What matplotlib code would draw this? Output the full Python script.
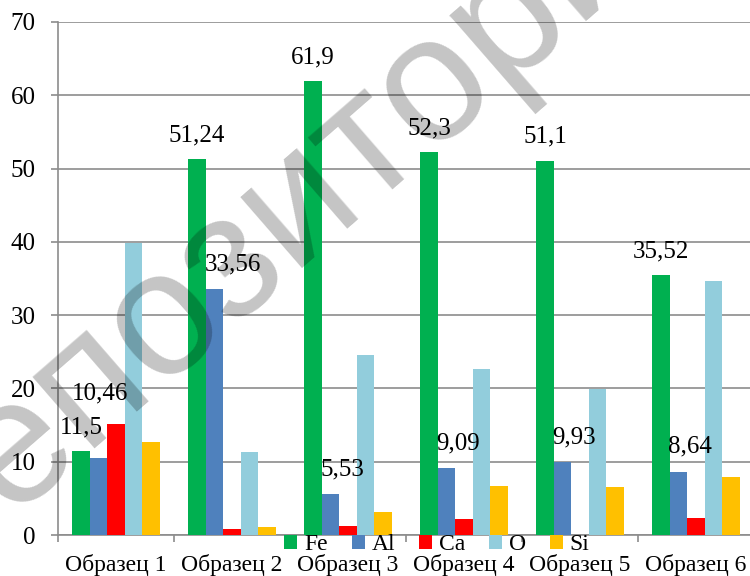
import matplotlib
matplotlib.use('Agg')
import matplotlib.pyplot as plt
import numpy as np

plt.rcParams['font.family'] = ['Liberation Serif', 'DejaVu Serif']

# data
samples = ['Образец 1', 'Образец 2', 'Образец 3', 'Образец 4', 'Образец 5', 'Образец 6']
elements = ['Fe', 'Al', 'Ca', 'O', 'Si']
fe = [11.5, 51.24, 61.9, 52.3, 51.1, 35.52]
al = [10.46, 33.56, 5.53, 9.09, 9.93, 8.64]
ca = [15.2, 0.8, 1.2, 2.2, 0.0, 2.3]
o = [39.9, 11.3, 24.5, 22.6, 19.9, 34.6]
si = [12.7, 1.1, 3.1, 6.7, 6.5, 7.9]
fe_labels = ['11,5', '51,24', '61,9', '52,3', '51,1', '35,52']
al_labels = ['10,46', '33,56', '5,53', '9,09', '9,93', '8,64']

colors = ['#00B050', '#4F81BD', '#FF0000', '#92CDDC', '#FFC000']
grid_col = '#8C8C8C'

fig = plt.figure(figsize=(7.5, 5.76), dpi=100)
ax = fig.add_axes([58 / 750, 41 / 576, 696 / 750, 513 / 576])

x = np.arange(len(samples))
w = 0.151
series = [fe, al, ca, o, si]
bars = []
for k, (vals, col, name) in enumerate(zip(series, colors, elements)):
    b = ax.bar(x + (k - 2) * w, vals, w, color=col, label=name, zorder=3)
    bars.append(b)

# data labels: Fe centred, Al left-aligned at bar edge (first Al label moved by hand)
for i, v in enumerate(fe):
    ax.annotate(fe_labels[i], (x[i] - 2 * w, v), xytext=(0, 17), textcoords='offset points',
                ha='center', va='center', fontsize=18, zorder=5)
for i, v in enumerate(al):
    dx, dy = (-13, 47) if i == 0 else (-1, 18)
    ax.annotate(al_labels[i], (x[i] - 1.5 * w, v), xytext=(dx, dy), textcoords='offset points',
                ha='left', va='center', fontsize=18, zorder=5)

ax.set_xlim(-0.5, 5.5)
ax.set_ylim(0, 70)
ax.set_yticks(range(0, 71, 10))
ax.yaxis.grid(True, color=grid_col, lw=1.2, zorder=0)
ax.set_axisbelow(True)

ax.set_xticks(x)
ax.set_xticklabels(samples, fontsize=17)
ax.set_xticks(np.arange(-0.5, 6, 1), minor=True)
ax.tick_params(axis='x', which='major', length=0, pad=14)
ax.tick_params(axis='x', which='minor', length=5, color=grid_col, width=1.2)
ax.tick_params(axis='y', length=5, color=grid_col, width=1.2, labelsize=18, pad=11)

for s in ['top', 'right']:
    ax.spines[s].set_visible(False)
for s in ['left', 'bottom']:
    ax.spines[s].set_color(grid_col)
    ax.spines[s].set_linewidth(1.2)

leg = fig.legend(handles=bars, labels=elements, loc='center', ncol=5,
                 bbox_to_anchor=(437 / 750, 1 - 545 / 576), frameon=False,
                 fontsize=17, handlelength=0.55, handleheight=0.55, handletextpad=0.3,
                 columnspacing=1.0, borderpad=0)

# watermark (runs off the page, as in the source)
fig.text(298 / 750, 1 - 198 / 576, 'репозиторий', family='Liberation Sans', fontsize=128,
         color='black', alpha=0.23, rotation=41, ha='center', va='center',
         rotation_mode='anchor', zorder=10)

fig.savefig('out.png', dpi=100)
